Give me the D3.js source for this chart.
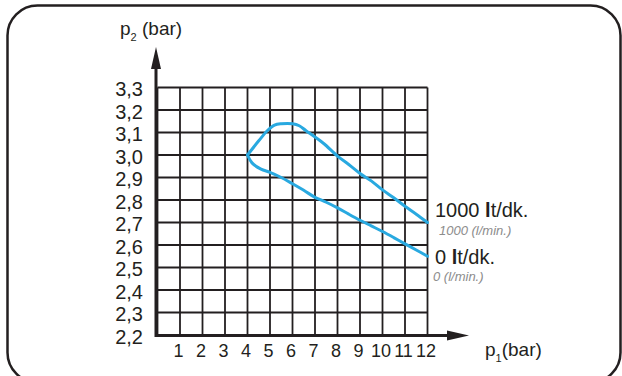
<!DOCTYPE html>
<html>
<head>
<meta charset="utf-8">
<script src="https://cdn.jsdelivr.net/npm/d3@7"></script>
<style>
  html, body { margin: 0; padding: 0; background: #fff; }
  svg { display: block; font-family: "Liberation Sans", Arial, sans-serif; }
</style>
</head>
<body>
<div id="chart"></div>
<script>
// tick values and labels
var xTicks = [0, 1, 2, 3, 4, 5, 6, 7, 8, 9, 10, 11, 12];
var xTickLabels = ["", "1", "2", "3", "4", "5", "6", "7", "8", "9", "10", "11", "12"];
var yTicks = [2.2, 2.3, 2.4, 2.5, 2.6, 2.7, 2.8, 2.9, 3.0, 3.1, 3.2, 3.3];
var yTickLabels = ["2,2", "2,3", "2,4", "2,5", "2,6", "2,7", "2,8", "2,9", "3,0", "3,1", "3,2", "3,3"];

// curve for 1000 lt/dk
var p1_1000 = [4, 4.5, 4.9, 5.2, 5.5, 6.0, 6.3, 6.6, 7.0, 7.4, 8.0, 8.5, 9.0, 9.5, 10.0, 10.5, 11.0, 11.5, 12.0];
var p2_1000 = [3.0, 3.063, 3.11, 3.133, 3.139, 3.139, 3.13, 3.108, 3.08, 3.05, 2.995, 2.958, 2.918, 2.885, 2.845, 2.81, 2.772, 2.737, 2.70];

// curve for 0 lt/dk
var p1_0 = [4, 4.2, 4.6, 5.0, 5.5, 6.0, 6.5, 7.0, 7.5, 8.0, 8.5, 9.0, 9.5, 10.0, 10.5, 11.0, 11.5, 12.0];
var p2_0 = [3.0, 2.965, 2.937, 2.923, 2.9, 2.872, 2.843, 2.812, 2.79, 2.765, 2.737, 2.71, 2.685, 2.66, 2.633, 2.605, 2.578, 2.55];

var flowValues = ["1000", "0"];
var flowUnit = "lt/dk.";
var flowSubLabels = ["1000 (l/min.)", "0 (l/min.)"];

var W = 622, H = 376;
var dark = "#231f20", blue = "#29a9e0";

var svg = d3.select("#chart").append("svg")
  .attr("width", W).attr("height", H);

// rounded frame
svg.append("rect")
  .attr("x", 7.5).attr("y", 5.5)
  .attr("width", 613).attr("height", 377)
  .attr("rx", 30).attr("ry", 30)
  .attr("fill", "none").attr("stroke", dark).attr("stroke-width", 2.5);

var x = d3.scaleLinear().domain([0, 12]).range([157.5, 427.5]);
var y = d3.scaleLinear().domain([2.2, 3.3]).range([335, 87.5]);

// grid
var grid = svg.append("g").attr("stroke", dark).attr("stroke-width", 1.8);
grid.selectAll("line.v").data(xTicks).enter().append("line")
  .attr("x1", function (d) { return x(d); }).attr("x2", function (d) { return x(d); })
  .attr("y1", y(3.3)).attr("y2", y(2.2));
grid.selectAll("line.h").data(yTicks).enter().append("line")
  .attr("y1", function (d) { return y(d); }).attr("y2", function (d) { return y(d); })
  .attr("x1", x(0)).attr("x2", x(12));

// axes lines + arrows
svg.append("line").attr("x1", 156).attr("x2", 156).attr("y1", 337).attr("y2", 62)
  .attr("stroke", dark).attr("stroke-width", 3);
svg.append("path").attr("d", "M156,47 L151,69 L161,69 Z").attr("fill", dark);
svg.append("line").attr("x1", 155).attr("x2", 452).attr("y1", 335.5).attr("y2", 335.5)
  .attr("stroke", dark).attr("stroke-width", 3);
svg.append("path").attr("d", "M469,335.5 L447,330.5 L447,340.5 Z").attr("fill", dark);

// tick labels via d3 axes
var xAxis = d3.axisBottom(x).tickValues(xTicks.slice(1)).tickSize(0)
  .tickFormat(function (d) { return xTickLabels[xTicks.indexOf(d)]; });
var gx = svg.append("g").attr("transform", "translate(0,335)").call(xAxis);
gx.select(".domain").remove();
gx.selectAll("text")
  .attr("y", 22).attr("dy", 0).attr("dx", -2)
  .attr("fill", dark).style("font-size", "18px")
  .style("font-family", "Liberation Sans, Arial, sans-serif");

var yAxis = d3.axisLeft(y).tickValues(yTicks).tickSize(0)
  .tickFormat(function (d, i) { return yTickLabels[i]; });
var gy = svg.append("g").attr("transform", "translate(143,0)").call(yAxis);
gy.select(".domain").remove();
gy.selectAll("text")
  .attr("x", 0).attr("dy", 8)
  .attr("fill", dark).style("font-size", "20px")
  .style("font-family", "Liberation Sans, Arial, sans-serif");

// curves
var line = d3.line()
  .x(function (d) { return x(d[0]); })
  .y(function (d) { return y(d[1]); })
  .curve(d3.curveCatmullRom.alpha(0.5));

[[p1_1000, p2_1000], [p1_0, p2_0]].forEach(function (s) {
  var pts = s[0].map(function (v, i) { return [v, s[1][i]]; });
  svg.append("path").datum(pts).attr("d", line)
    .attr("fill", "none").attr("stroke", blue).attr("stroke-width", 3)
    .attr("stroke-linejoin", "round").attr("stroke-linecap", "round");
});

// curve labels
var labelY = [217, 264], subY = [235, 281], subX = [439, 433];
flowValues.forEach(function (v, i) {
  var t = svg.append("text").attr("x", 435).attr("y", labelY[i])
    .attr("fill", dark).style("font-size", "20px");
  t.append("tspan").text(v + " ");
  t.append("tspan").style("font-weight", "bold").text(flowUnit.charAt(0));
  t.append("tspan").text(flowUnit.slice(1));
  svg.append("text").attr("x", subX[i]).attr("y", subY[i])
    .attr("fill", "#8c8c8c").style("font-size", "13px").style("font-style", "italic")
    .text(flowSubLabels[i]);
});

// axis titles
var ty = svg.append("text").attr("x", 120).attr("y", 35).attr("fill", dark).style("font-size", "19px");
ty.append("tspan").text("p");
ty.append("tspan").attr("dy", 6).style("font-size", "11px").text("2");
ty.append("tspan").attr("dy", -6).text(" (bar)");

var tx = svg.append("text").attr("x", 485).attr("y", 356).attr("fill", dark).style("font-size", "19px");
tx.append("tspan").text("p");
tx.append("tspan").attr("dy", 6).style("font-size", "11px").text("1");
tx.append("tspan").attr("dy", -6).text("(bar)");
</script>
</body>
</html>
